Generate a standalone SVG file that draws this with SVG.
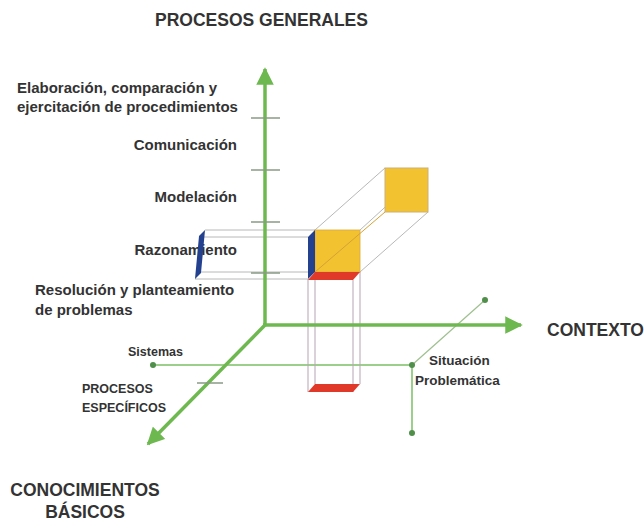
<svg xmlns="http://www.w3.org/2000/svg" width="644" height="523" viewBox="0 0 644 523">
<defs>
<style>
.t{font-family:"Liberation Sans",Arial,sans-serif;font-weight:bold;fill:#333333}
.big{font-size:17.5px}
.mid{font-size:15px}
.sm{font-size:12.5px}
.axis{stroke:#6db84f;stroke-width:3.5;fill:none}
.tick{stroke:#8a9a85;stroke-width:1.5}
.thin{stroke:#7cbf66;stroke-width:1.5;fill:none}
.dot{fill:#4f8f4a}
.edge{stroke:#b8b8b8;stroke-width:1;fill:none}
.vedge{stroke:#b7a3b3;stroke-width:1;fill:none}
</style>
<marker id="ah" viewBox="0 0 10 10" refX="9" refY="5" markerWidth="5" markerHeight="5" orient="auto" markerUnits="strokeWidth">
<path d="M0,0 L10,5 L0,10 z" fill="#6db84f"/>
</marker>
</defs>
<rect width="644" height="523" fill="#ffffff"/>

<g id="labels">
<text class="t big" x="155" y="26">PROCESOS GENERALES</text>
<text class="t mid" x="17" y="93">Elaboración, comparación y</text>
<text class="t mid" x="17" y="112">ejercitación de procedimientos</text>
<text class="t mid" x="237" y="150" text-anchor="end">Comunicación</text>
<text class="t mid" x="237" y="202" text-anchor="end">Modelación</text>
<text class="t mid" x="237" y="255" text-anchor="end">Razonamiento</text>
<text class="t mid" x="35" y="295">Resolución y planteamiento</text>
<text class="t mid" x="35" y="315">de problemas</text>
<text class="t big" x="547" y="336">CONTEXTO</text>
<text class="t big" x="85" y="496" text-anchor="middle">CONOCIMIENTOS</text>
<text class="t big" x="85" y="518" text-anchor="middle">BÁSICOS</text>
<text class="t sm" x="128" y="356">Sistemas</text>
<text class="t sm" x="82" y="393">PROCESOS</text>
<text class="t sm" x="82" y="412">ESPECÍFICOS</text>
<text class="t" x="429" y="365" style="font-size:13.5px">Situación</text>
<text class="t" x="415" y="385" style="font-size:13.5px">Problemática</text>
</g>

<g id="connectors">
<line class="thin" x1="153" y1="365" x2="412" y2="365"/>
<line class="thin" x1="412" y1="365" x2="412" y2="433"/>
<line x1="412" y1="365" x2="485" y2="300" stroke="#9fc08f" stroke-width="1.2"/>
<circle class="dot" cx="153" cy="365" r="3"/>
<circle class="dot" cx="412" cy="365" r="3"/>
<circle class="dot" cx="412" cy="433" r="3"/>
<circle class="dot" cx="485" cy="300" r="3"/>
</g>

<g id="prism-horizontal">
<line class="edge" x1="205" y1="230" x2="315" y2="230"/>
<line class="edge" x1="199" y1="237" x2="308" y2="237"/>
<line class="edge" x1="201" y1="272" x2="315" y2="272"/>
<line class="edge" x1="195" y1="279" x2="308" y2="279"/>
<polygon points="199,236 205,230 201,273 195,279" fill="#23418f"/>
</g>

<g id="prism-vertical">
<line class="vedge" x1="308" y1="279" x2="308" y2="392"/>
<line class="vedge" x1="315" y1="272" x2="315" y2="384"/>
<line class="vedge" x1="353" y1="280" x2="353" y2="392"/>
<line class="vedge" x1="360" y1="272" x2="360" y2="384"/>
<polygon points="315,384 360,384 353,392 308,392" fill="#e0392a"/>
</g>

<g id="axes">
<line class="axis" x1="265" y1="326" x2="265" y2="69" marker-end="url(#ah)"/>
<line class="axis" x1="263" y1="325" x2="521" y2="325" marker-end="url(#ah)"/>
<line class="axis" x1="266" y1="324" x2="148" y2="444" marker-end="url(#ah)"/>
<line class="tick" x1="251" y1="118" x2="280" y2="118"/>
<line class="tick" x1="251" y1="170" x2="280" y2="170"/>
<line class="tick" x1="251" y1="222" x2="280" y2="222"/>
<line class="tick" x1="251" y1="273" x2="280" y2="273"/>
<line class="tick" x1="197" y1="383" x2="223" y2="383"/>
</g>

<g id="cube">
<line class="edge" x1="315" y1="230" x2="385" y2="168"/>
<line class="edge" x1="360" y1="230" x2="428" y2="168"/>
<line class="edge" x1="360" y1="272" x2="428" y2="212"/>
<rect x="385" y="168" width="43" height="44" fill="#f3c230" stroke="#c9b07a" stroke-width="1"/>
<rect x="315" y="230" width="45" height="42" fill="#f3c230" stroke="#d9a93a" stroke-width="0.8"/>
<line x1="315" y1="272" x2="385" y2="212" stroke="#d4a235" stroke-width="1"/>
<polygon points="308,237 315,230 315,272 308,279" fill="#23418f"/>
<polygon points="315,272 360,272 353,280 308,280" fill="#e0392a"/>
</g>
</svg>
